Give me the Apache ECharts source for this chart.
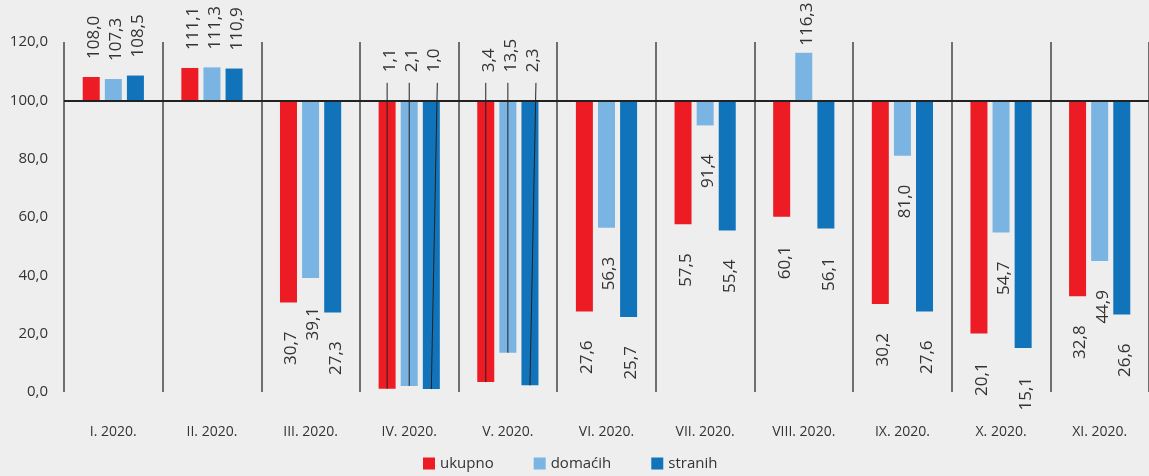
<!DOCTYPE html>
<html><head><meta charset="utf-8">
<script src="https://cdn.jsdelivr.net/npm/echarts@6/dist/echarts.min.js"></script>
<style>html,body{margin:0;padding:0;background:#eeeeee;} #c{width:1149px;height:476px;}</style>
</head><body><div id="c"></div>
<script>
const categories = ['I. 2020.','II. 2020.','III. 2020.','IV. 2020.','V. 2020.','VI. 2020.','VII. 2020.','VIII. 2020.','IX. 2020.','X. 2020.','XI. 2020.'];
const ukupno  = [108.0, 111.1, 30.7, 1.1, 3.4, 27.6, 57.5, 60.1, 30.2, 20.1, 32.8];
const domacih = [107.3, 111.3, 39.1, 2.1, 13.5, 56.3, 91.4, 116.3, 81.0, 54.7, 44.9];
const stranih = [108.5, 110.9, 27.3, 1.0, 2.3, 25.7, 55.4, 56.1, 27.6, 15.1, 26.6];
const seriesNames = ['ukupno', 'domaćih', 'stranih'];
const yMin = 0, yMax = 120, yStep = 20;
const baseline = 100;
const calloutCategories = ['IV. 2020.', 'V. 2020.'];

const colors = ['#ed1c24', '#7ab4e3', '#1173ba'];
const FONT = '"Open Sans", "Noto Sans", sans-serif';
const fmt = v => v.toFixed(1).replace('.', ',');
const BAR_W = 17, GAP = 0.3;
const allVals = [ukupno, domacih, stranih];

const series = [];
allVals.forEach((vals, s) => {
  series.push({
    type: 'bar', name: '_base' + s, stack: 'st' + s, barWidth: BAR_W, barGap: '30%',
    silent: true, itemStyle: { color: 'rgba(0,0,0,0)' },
    emphasis: { disabled: true },
    data: vals.map(v => Math.min(v, baseline))
  });
  const ser = {
    type: 'bar', name: seriesNames[s], stack: 'st' + s, barWidth: BAR_W, barGap: '30%',
    itemStyle: { color: colors[s] },
    emphasis: { disabled: true },
    data: vals.map(v => Math.abs(v - baseline))
  };
  if (s === 0) {
    ser.markLine = {
      silent: true, symbol: 'none', label: { show: false },
      lineStyle: { color: '#222', width: 2, type: 'solid' },
      data: [{ yAxis: baseline }]
    };
  }
  series.push(ser);
});

// label + callout data: [categoryIndex, value, slot]
const labelData = [];
allVals.forEach((vals, s) => vals.forEach((v, i) => labelData.push([i, v, s])));
const calloutData = labelData.filter(d => calloutCategories.includes(categories[d[0]]));

const slotOffset = s => (s - 1) * BAR_W * (1 + GAP);

series.push({
  type: 'custom', silent: true, z: 6, data: labelData, encode: { x: 0, y: 1 },
  renderItem(params, api) {
    const i = api.value(0), v = api.value(1), s = api.value(2);
    const p = api.coord([i, v]);
    const base = api.coord([i, baseline]);
    const callout = calloutCategories.includes(categories[i]);
    const up = v >= baseline;
    const x = p[0] + slotOffset(s) + 3;
    let y, align;
    if (callout) { y = base[1] - 28; align = 'left'; }
    else if (up) { y = p[1] - (v > 115 ? 7 : 18); align = 'left'; }
    else { y = p[1] + 29; align = 'right'; }
    return {
      type: 'text', x: x, y: y, rotation: Math.PI / 2,
      style: { text: fmt(v), align: align, verticalAlign: 'middle', fill: '#333',
               font: '17px ' + FONT }
    };
  }
});

series.push({
  type: 'custom', silent: true, z: 5, data: calloutData, encode: { x: 0, y: 1 },
  renderItem(params, api) {
    const i = api.value(0), v = api.value(1), s = api.value(2);
    const p = api.coord([i, v]);
    const top = api.coord([i, baseline + 6]);
    const off = slotOffset(s);
    const skew = s === 2 ? 6 : 0;
    return {
      type: 'line',
      shape: { x1: p[0] + off + skew, y1: top[1], x2: p[0] + off, y2: p[1] },
      style: { stroke: '#222', lineWidth: 1 }
    };
  }
});

const chart = echarts.init(document.getElementById('c'));
chart.setOption({
  backgroundColor: '#eeeeee',
  animation: false,
  textStyle: { fontFamily: FONT },
  grid: { left: 64, right: 0, top: 42, bottom: 84 },
  legend: {
    data: seriesNames.map(n => ({ name: n, icon: 'rect' })),
    left: 418, top: 451, itemWidth: 12, itemHeight: 12, itemGap: 40,
    textStyle: { fontSize: 15, color: '#333', fontFamily: FONT }
  },
  xAxis: {
    type: 'category', data: categories,
    axisTick: { show: false }, axisLine: { show: false },
    splitLine: { show: true, interval: 0, lineStyle: { color: '#444', width: 1.5 } },
    axisLabel: { interval: 0, margin: 33, fontSize: 14, color: '#333', fontFamily: FONT }
  },
  yAxis: {
    type: 'value', min: yMin, max: yMax, interval: yStep,
    axisLine: { show: false }, axisTick: { show: false }, splitLine: { show: false },
    axisLabel: { margin: 16, fontSize: 15, color: '#333', fontFamily: FONT, formatter: v => fmt(v) }
  },
  series: series
});
</script>
</body></html>
